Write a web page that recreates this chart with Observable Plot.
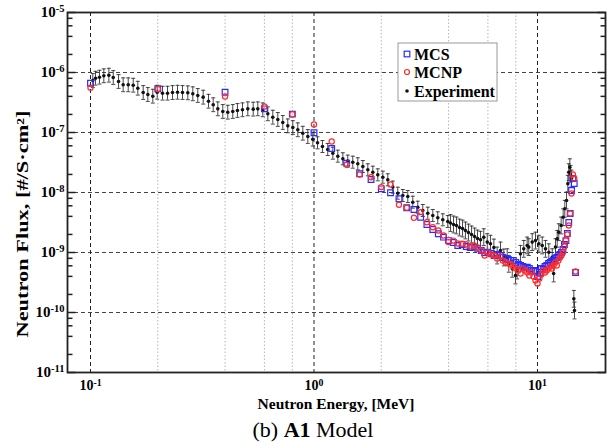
<!DOCTYPE html>
<html><head><meta charset="utf-8">
<script src="https://cdn.jsdelivr.net/npm/d3@7"></script>
<script src="https://cdn.jsdelivr.net/npm/@observablehq/plot@0.6"></script>
<style>
body{margin:0;background:#fff;font-family:"Liberation Serif","Times New Roman",serif;}
#wrap{position:relative;width:613px;height:446px;}
#caption{position:absolute;left:0;top:418px;width:626px;text-align:center;font-size:22px;line-height:24px;color:#000;}
</style></head><body>
<div id="wrap"><div id="chart"></div><div id="caption">(b) <b>A1</b> Model</div></div>
<script>
// ---- axis ticks / grid ----
const xMajor = [0.1, 1, 10];
const xMinor = [0.2, 0.4, 0.6, 0.8, 2, 4, 6, 8];
const yMajor = [1e-11, 1e-10, 1e-9, 1e-8, 1e-7, 1e-6, 1e-5];
const yMinor = [2e-11,4e-11,6e-11,8e-11,2e-10,4e-10,6e-10,8e-10,2e-9,4e-9,6e-9,8e-9,
                2e-8,4e-8,6e-8,8e-8,2e-7,4e-7,6e-7,8e-7,2e-6,4e-6,6e-6,8e-6];
const xDomain = [0.0789, 20.15];
const yDomain = [1e-11, 1e-5];

// ---- simulations (MCS, MCNP) ----
const simE = [0.1,0.2,0.4,0.6,0.8,1.0,1.2,1.4,1.6,1.8,2.0,2.2,2.4,2.6,2.8,3.0,3.2,3.4,3.6,3.8,
  4.0,4.2,4.4,4.6,4.8,5.0,5.2,5.4,5.6,5.8,6.0,6.2,6.4,6.6,6.8,7.0,7.2,7.4,7.6,7.8,
  8.0,8.2,8.4,8.6,8.8,9.0,9.2,9.4,9.6,9.8,10.0,10.2,10.4,10.6,10.8,11.0,11.2,11.4,11.6,11.8,
  12.0,12.2,12.4,12.6,12.8,13.0,13.2,13.4,13.6,13.8,14.0,14.2,14.4,14.6,14.8];
const mcsFlux = [6.63e-7,5.35e-7,4.69e-7,2.48e-7,2.02e-7,9.89e-8,5.41e-8,3.08e-8,2.05e-8,1.65e-8,
  1.15e-8,9.89e-9,7.85e-9,5.56e-9,5.21e-9,3.87e-9,2.93e-9,2.42e-9,2.05e-9,1.80e-9,
  1.58e-9,1.47e-9,1.31e-9,1.36e-9,1.26e-9,1.21e-9,1.23e-9,1.17e-9,1.08e-9,1.00e-9,
  1.01e-9,9.62e-10,8.91e-10,9.27e-10,8.91e-10,8.26e-10,7.94e-10,7.64e-10,7.36e-10,7.36e-10,
  6.81e-10,6.31e-10,6.07e-10,5.84e-10,5.62e-10,5.69e-10,5.41e-10,5.01e-10,5.01e-10,4.82e-10,
  3.98e-10,4.64e-10,5.41e-10,5.21e-10,5.84e-10,6.07e-10,6.56e-10,6.81e-10,7.08e-10,7.36e-10,
  7.94e-10,8.26e-10,8.91e-10,9.27e-10,1.00e-9,1.12e-9,1.36e-9,1.58e-9,2.07e-9,3.16e-9,
  4.47e-9,1.08e-8,1.71e-8,1.41e-8,4.64e-10];
const mcnpFlux = [5.56e-7,5.30e-7,3.98e-7,2.71e-7,2.02e-7,1.36e-7,7.08e-8,2.90e-8,2.00e-8,1.80e-8,
  1.23e-8,1.36e-8,6.24e-9,5.56e-9,3.79e-9,4.70e-9,3.20e-9,2.64e-9,2.33e-9,1.92e-9,
  1.49e-9,1.58e-9,1.41e-9,1.40e-9,1.36e-9,1.26e-9,1.31e-9,1.21e-9,1.08e-9,8.91e-10,
  1.00e-9,9.27e-10,8.91e-10,7.94e-10,8.58e-10,7.36e-10,6.81e-10,6.56e-10,6.31e-10,5.84e-10,
  5.41e-10,5.01e-10,4.47e-10,5.41e-10,5.01e-10,4.64e-10,4.14e-10,4.64e-10,3.98e-10,3.41e-10,
  3.04e-10,3.69e-10,4.30e-10,5.01e-10,4.64e-10,5.01e-10,5.41e-10,5.84e-10,5.41e-10,6.07e-10,
  6.81e-10,6.07e-10,7.36e-10,8.26e-10,8.91e-10,1.00e-9,1.26e-9,1.58e-9,2.00e-9,2.82e-9,
  4.47e-9,9.62e-9,2.00e-8,1.71e-8,4.82e-10];

// ---- experiment ----
const expE = [0.1024,0.1053,0.1097,0.1147,0.1208,0.1264,0.1335,0.1400,0.1475,0.1553,0.1628,0.1721,
  0.1805,0.1900,0.1988,0.2100,0.2211,0.2328,0.2451,0.2580,0.2725,0.2869,0.3020,0.3193,0.3373,
  0.3540,0.3712,0.3907,0.4113,0.4331,0.4544,0.4786,0.5056,0.5346,0.5605,0.5900,0.6214,0.6541,
  0.6887,0.7250,0.7632,0.8038,0.8462,0.8910,0.9382,0.9877,1.037,1.091,1.152,1.214,1.278,1.346,
  1.416,1.491,1.570,1.654,1.741,1.833,1.929,2.032,2.139,2.252,2.371,2.496,2.628,2.767,2.913,
  3.067,3.229,3.400,3.579,3.769,3.968,4.08,4.21,4.34,4.48,4.62,4.76,4.91,5.07,5.23,5.39,
  5.56,5.75,5.96,6.16,6.38,6.60,6.83,7.07,7.32,7.44,7.71,7.97,8.11,8.39,8.68,8.99,9.14,9.47,
  9.80,10.14,10.50,10.86,11.24,11.64,11.81,12.04,12.25,12.45,12.76,13.03,13.25,13.49,13.67,
  13.80,13.95,14.05,14.19,14.54,14.64];
const expFlux = [7.36e-7,8.03e-7,8.35e-7,8.81e-7,9.02e-7,8.25e-7,7.08e-7,6.24e-7,6.24e-7,6.14e-7,
  5.47e-7,4.64e-7,4.30e-7,4.03e-7,4.69e-7,4.52e-7,4.52e-7,4.64e-7,4.69e-7,4.64e-7,4.59e-7,
  4.42e-7,4.14e-7,3.88e-7,3.32e-7,2.90e-7,2.48e-7,2.24e-7,2.18e-7,2.24e-7,2.33e-7,2.39e-7,
  2.48e-7,2.45e-7,2.48e-7,2.39e-7,2.05e-7,1.80e-7,1.65e-7,1.47e-7,1.29e-7,1.21e-7,1.11e-7,
  9.73e-8,8.58e-8,7.73e-8,6.73e-8,5.84e-8,5.21e-8,4.52e-8,4.03e-8,3.65e-8,3.33e-8,3.20e-8,
  3.01e-8,2.71e-8,2.39e-8,2.18e-8,1.97e-8,1.80e-8,1.63e-8,1.23e-8,9.73e-9,8.91e-9,8.58e-9,
  6.89e-9,5.69e-9,5.01e-9,4.52e-9,4.14e-9,3.79e-9,3.51e-9,3.29e-9,3.10e-9,2.93e-9,2.82e-9,
  2.61e-9,2.51e-9,2.33e-9,2.15e-9,2.00e-9,1.85e-9,1.71e-9,1.63e-9,1.80e-9,1.49e-9,1.40e-9,
  1.21e-9,8.91e-10,1.08e-9,8.26e-10,8.35e-10,6.48e-10,5.35e-10,4.14e-10,5.01e-10,9.51e-10,
  1.15e-9,1.31e-9,1.23e-9,1.49e-9,1.58e-9,1.40e-9,1.31e-9,1.15e-9,1.01e-9,8.35e-10,4.47e-10,
  1.23e-9,1.69e-9,2.18e-9,2.82e-9,3.87e-9,5.35e-9,7.36e-9,1.40e-8,2.18e-8,2.64e-8,2.05e-8,
  1.71e-8,1.69e-10,1.08e-10];
// error-bar half width (decades) by energy band
const errBandUpper = [1.0, 4.0, 30];
const errBandDec   = [0.115, 0.10, 0.14];

const legendLabels = ["MCS", "MCNP", "Experiment"];
const colors = {MCS: "#2b2bff", MCNP: "#ff2b2b", Experiment: "#111"};

// ---- tables ----
const mcs = simE.map((E, i) => ({E, flux: mcsFlux[i]}));
const mcnp = simE.map((E, i) => ({E, flux: mcnpFlux[i]}));
const exp = expE.slice(0, Math.min(expE.length, expFlux.length)).map((E, i) => {
  const b = errBandUpper.findIndex(u => E < u);
  const e = errBandDec[b < 0 ? errBandDec.length - 1 : b];
  const f = expFlux[i];
  return {E, flux: f, lo: f / Math.pow(10, e), hi: f * Math.pow(10, e)};
});

const tickL = {draw(c){ c.moveTo(0,0); c.lineTo(5,0); }};
const tickR = {draw(c){ c.moveTo(-5,0); c.lineTo(0,0); }};
const tickLM = {draw(c){ c.moveTo(0,0); c.lineTo(8,0); }};
const tickRM = {draw(c){ c.moveTo(-8,0); c.lineTo(0,0); }};
const cap = {draw(c){ c.moveTo(-2,0); c.lineTo(2,0); }};
const expFmt = d => "10^" + Math.round(Math.log10(d));
const font = '"Liberation Serif","Times New Roman",serif';

const plot = Plot.plot({
  width: 613, height: 418,
  marginLeft: 67, marginRight: 8, marginTop: 12, marginBottom: 46,
  style: {fontFamily: font, background: "#fff", color: "#000"},
  x: {type: "log", domain: xDomain},
  y: {type: "log", domain: yDomain},
  marks: [
    Plot.ruleX(xMinor, {stroke: "#b5b5b5", strokeDasharray: "1.5,2", strokeWidth: 1}),
    Plot.ruleY(yMajor.slice(1, -1), {stroke: "#444", strokeDasharray: "4,3", strokeWidth: 1}),
    Plot.ruleX(xMajor, {stroke: "#222", strokeDasharray: "4,3", strokeWidth: 1}),
    Plot.axisX({ticks: xMajor, tickSize: 0, tickPadding: 8, tickFormat: expFmt,
      fontSize: 14, fontWeight: "bold", label: null}),
    Plot.axisY({ticks: yMajor, tickSize: 0, tickPadding: 3, tickFormat: expFmt,
      fontSize: 15, fontWeight: "bold", label: null}),
    Plot.dot(yMinor, {x: () => xDomain[0], y: d => d, symbol: tickL, stroke: "#222", fill: "none"}),
    Plot.dot(yMinor, {x: () => xDomain[1], y: d => d, symbol: tickR, stroke: "#222", fill: "none"}),
    Plot.dot(yMajor, {x: () => xDomain[0], y: d => d, symbol: tickLM, stroke: "#222", fill: "none"}),
    Plot.dot(yMajor, {x: () => xDomain[1], y: d => d, symbol: tickRM, stroke: "#222", fill: "none"}),
    // experiment with error bars
    Plot.ruleX(exp, {x: "E", y1: "lo", y2: "hi", stroke: "#333", strokeWidth: 0.9}),
    Plot.dot(exp, {x: "E", y: "lo", symbol: cap, stroke: "#333", fill: "none", strokeWidth: 0.9}),
    Plot.dot(exp, {x: "E", y: "hi", symbol: cap, stroke: "#333", fill: "none", strokeWidth: 0.9}),
    Plot.dot(exp, {x: "E", y: "flux", r: 1.8, fill: colors.Experiment, stroke: "none"}),
    // simulations
    Plot.dot(mcs, {x: "E", y: "flux", symbol: "square", r: 3.2, stroke: colors.MCS, fill: "none", strokeWidth: 1.2}),
    Plot.dot(mcnp, {x: "E", y: "flux", symbol: "circle", r: 2.6, stroke: colors.MCNP, fill: "none", strokeWidth: 1.2}),
    Plot.frame({stroke: "#222", strokeWidth: 1.8})
  ]
});

// superscript tick labels
d3.select(plot).selectAll("text").each(function() {
  const m = /^10\^(-?\d+)$/.exec(this.textContent);
  if (!m) return;
  const s = d3.select(this);
  s.text(null);
  s.append("tspan").text("10");
  s.append("tspan").attr("dy", "-0.5em").attr("font-size", "0.7em").text(m[1]);
});

const svg = d3.select(plot);
// axis titles
svg.append("text").attr("x", 336).attr("y", 409).attr("text-anchor", "middle")
  .attr("font-family", font).attr("font-weight", "bold").attr("font-size", 15.5)
  .text("Neutron Energy, [MeV]");
svg.append("text").attr("transform", "translate(28,224) rotate(-90)").attr("text-anchor", "middle")
  .attr("font-family", font).attr("font-weight", "bold").attr("font-size", 16)
  .attr("textLength", 227).attr("lengthAdjust", "spacingAndGlyphs")
  .text("Neutron Flux, [#/S·cm²]");

// legend
const lg = svg.append("g").attr("transform", "translate(398,43)");
lg.append("rect").attr("width", 99).attr("height", 58).attr("fill", "#fff")
  .attr("stroke", "#999").attr("stroke-width", 1);
const rowsY = [11, 29, 48];
lg.append("rect").attr("x", 6.2).attr("y", rowsY[0] - 2.8).attr("width", 5.6).attr("height", 5.6)
  .attr("fill", "none").attr("stroke", colors.MCS).attr("stroke-width", 1.2);
lg.append("circle").attr("cx", 9).attr("cy", rowsY[1]).attr("r", 2.5)
  .attr("fill", "none").attr("stroke", colors.MCNP).attr("stroke-width", 1.2);
lg.append("circle").attr("cx", 9).attr("cy", rowsY[2]).attr("r", 1.8).attr("fill", colors.Experiment);
legendLabels.forEach((t, i) => {
  lg.append("text").attr("x", 16).attr("y", rowsY[i]).attr("dy", "0.35em")
    .attr("text-anchor", "start")
    .attr("font-family", font).attr("font-weight", "bold").attr("font-size", 16)
    .text(t);
});

document.getElementById("chart").appendChild(plot);
</script>
</body></html>
